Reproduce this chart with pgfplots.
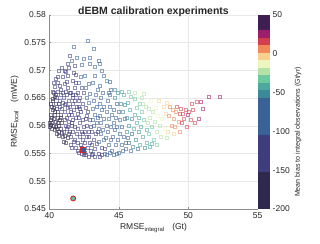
\documentclass[border=0pt]{standalone}
\usepackage{pgfplots}
\pgfplotsset{compat=1.18}
\usepackage{fontspec}
\setmainfont{Liberation Sans}
\definecolor{txt}{HTML}{262626}
\definecolor{axc}{HTML}{8C8C8C}
\definecolor{grd}{HTML}{E8E8E8}
\definecolor{hlsq}{RGB}{58,92,150}
\definecolor{hlci}{RGB}{95,192,160}
\definecolor{hlred}{RGB}{225,40,40}
\pgfplotsset{colormap={bias}{
rgb255=(47,42,77) rgb255=(47,42,77) rgb255=(47,42,77) rgb255=(47,42,77) rgb255=(47,42,77)
rgb255=(62,61,126) rgb255=(62,61,126) rgb255=(62,61,126) rgb255=(62,61,126) rgb255=(62,61,126)
rgb255=(58,98,150) rgb255=(58,98,150) rgb255=(58,98,150) rgb255=(58,98,150) rgb255=(58,98,150)
rgb255=(58,138,152) rgb255=(76,168,157) rgb255=(110,202,158) rgb255=(180,225,166) rgb255=(238,246,192)
rgb255=(248,208,144) rgb255=(240,138,90) rgb255=(212,63,80) rgb255=(156,31,108) rgb255=(63,31,82)
rgb255=(63,31,82)
}}
\begin{document}
\begin{tikzpicture}
\useasboundingbox (-49.3pt,-34pt) rectangle (270.7pt,209pt);
\begin{axis}[
  scale only axis, width=208.4pt, height=194.3pt,
  xmin=40, xmax=55, ymin=0.545, ymax=0.58,
  xtick={40,45,50,55}, ytick={0.545,0.55,0.555,0.56,0.565,0.57,0.575,0.58},
  scaled y ticks=false,
  yticklabel style={/pgf/number format/.cd, fixed, precision=3},
  /pgf/number format/assume math mode=true,
  axis lines*=left, axis line style={axc, line width=0.4pt},
  tick style={axc, line width=0.4pt}, tick align=inside, major tick length=2pt,
  grid=major, grid style={grd, line width=0.4pt},
  ticklabel style={font=\fontsize{8.5}{9}\selectfont, text=txt},
  label style={font=\fontsize{8.5}{10}\selectfont, text=txt},
  xlabel={RMSE\textsubscript{integral}\hspace{0.9em}(Gt)},
  ylabel={RMSE\textsubscript{local}\hspace{0.9em}(mWE)},
  xlabel style={yshift=2pt},
  ylabel style={yshift=-1pt},
  title={\textbf{dEBM calibration experiments}},
  title style={font=\fontsize{10.5}{12}\selectfont, text=txt, at={(0.5,1)}, anchor=base, yshift=-5.5pt},
  colormap name=bias, colormap access=piecewise constant,
  point meta min=-200, point meta max=50,
  colorbar right,
  colorbar style={scale only axis, width=12.5pt, at={(1,1)}, anchor=north west, xshift=12.3pt,
    ytick={-200,-150,-100,-50,0,50},
    /pgf/number format/assume math mode=true,
    yticklabel style={font=\fontsize{8.5}{9}\selectfont, text=txt, xshift=-1pt},
    axis line style={draw=none}, major tick length=0pt,
    ylabel={Mean bias to integral observations (Gt/yr)},
    ylabel style={font=\fontsize{7.1}{9}\selectfont, text=txt, xshift=-20pt, yshift=2pt}},
]
\addplot[scatter, only marks, mark=square, mark size=1.5pt, line width=0.4pt,
  scatter src=explicit, scatter/use mapped color={draw=mapped color, draw opacity=0.58}]
table[meta index=2] {
x y m
40.05 0.5598 -171
40.10 0.5602 -169
40.08 0.5610 -167
40.15 0.5595 -172
40.20 0.5605 -168
40.12 0.5620 -164
40.25 0.5628 -162
40.18 0.5635 -160
40.30 0.5600 -170
40.35 0.5612 -166
40.28 0.5645 -156
40.40 0.5592 -172
40.42 0.5625 -162
40.45 0.5640 -158
40.38 0.5652 -154
40.22 0.5648 -156
40.33 0.5660 -152
40.47 0.5608 -168
40.15 0.5615 -166
40.30 0.5632 -160
40.45 0.5685 -145
40.35 0.5678 -147
40.40 0.5670 -149
40.25 0.5662 -151
40.48 0.5655 -153
40.10 0.5640 -158
40.44 0.5598 -171
40.05 0.5606 -168
40.36 0.5619 -164
40.52 0.5585 -164
40.55 0.5595 -162
40.60 0.5605 -158
40.58 0.5615 -156
40.65 0.5590 -163
40.62 0.5625 -152
40.70 0.5582 -165
40.68 0.5600 -160
40.72 0.5635 -150
40.75 0.5610 -157
40.78 0.5645 -147
40.80 0.5595 -162
40.85 0.5620 -154
40.82 0.5655 -144
40.88 0.5588 -164
40.90 0.5630 -151
40.92 0.5605 -158
40.95 0.5642 -147
40.98 0.5580 -166
40.55 0.5650 -145
40.60 0.5662 -141
40.67 0.5640 -148
40.74 0.5672 -138
40.85 0.5665 -140
40.58 0.5678 -137
40.70 0.5700 -130
40.90 0.5705 -128
40.95 0.5688 -134
40.63 0.5688 -134
40.80 0.5615 -156
40.53 0.5630 -151
40.97 0.5660 -142
41.02 0.5572 -157
41.05 0.5590 -151
41.08 0.5610 -145
41.10 0.5582 -153
41.12 0.5625 -140
41.15 0.5600 -148
41.18 0.5640 -136
41.20 0.5570 -157
41.22 0.5615 -143
41.25 0.5655 -132
41.28 0.5595 -150
41.30 0.5632 -138
41.32 0.5668 -128
41.35 0.5578 -155
41.38 0.5608 -146
41.40 0.5645 -134
41.42 0.5620 -142
41.45 0.5590 -151
41.48 0.5660 -130
41.05 0.5650 -133
41.10 0.5675 -126
41.15 0.5662 -129
41.25 0.5680 -124
41.35 0.5690 -121
41.20 0.5698 -119
41.40 0.5705 -117
41.30 0.5712 -115
41.45 0.5727 -110
41.12 0.5700 -118
41.42 0.5585 -153
41.08 0.5638 -137
41.33 0.5598 -149
41.47 0.5635 -137
41.52 0.5565 -147
41.55 0.5580 -143
41.58 0.5600 -137
41.60 0.5620 -131
41.62 0.5560 -149
41.65 0.5640 -125
41.68 0.5590 -140
41.70 0.5610 -134
41.72 0.5655 -121
41.75 0.5572 -145
41.78 0.5628 -129
41.80 0.5668 -117
41.82 0.5598 -138
41.85 0.5645 -124
41.88 0.5560 -149
41.90 0.5615 -133
41.92 0.5678 -114
41.95 0.5585 -142
41.98 0.5635 -127
41.55 0.5660 -119
41.65 0.5682 -112
41.75 0.5695 -109
41.85 0.5708 -105
41.60 0.5718 -102
41.73 0.5743 -94
41.95 0.5722 -100
41.90 0.5692 -113
41.58 0.5605 -136
41.68 0.5650 -122
41.82 0.5575 -144
41.93 0.5655 -121
41.53 0.5625 -130
42.02 0.5555 -139
42.05 0.5570 -134
42.08 0.5595 -127
42.10 0.5615 -121
42.12 0.5635 -115
42.15 0.5552 -139
42.18 0.5580 -131
42.20 0.5650 -110
42.22 0.5605 -124
42.25 0.5565 -136
42.28 0.5625 -118
42.30 0.5668 -105
42.32 0.5590 -128
42.35 0.5550 -140
42.38 0.5640 -113
42.40 0.5610 -122
42.42 0.5575 -133
42.45 0.5660 -107
42.48 0.5598 -126
42.05 0.5660 -107
42.15 0.5678 -102
42.25 0.5688 -99
42.35 0.5710 -92
42.45 0.5720 -89
42.10 0.5645 -112
42.30 0.5560 -137
42.40 0.5585 -130
42.20 0.5630 -116
42.48 0.5548 -141
42.04 0.5622 -118
42.52 0.5552 -128
42.55 0.5570 -123
42.58 0.5590 -117
42.60 0.5612 -110
42.62 0.5632 -104
42.65 0.5548 -130
42.68 0.5580 -120
42.70 0.5650 -99
42.72 0.5600 -114
42.75 0.5560 -126
42.78 0.5625 -107
42.80 0.5545 -131
42.82 0.5590 -117
42.85 0.5642 -101
42.88 0.5570 -123
42.90 0.5610 -111
42.92 0.5658 -97
42.95 0.5555 -128
42.98 0.5598 -115
42.74 0.5753 -68
42.90 0.5723 -77
42.92 0.5712 -80
42.60 0.5668 -94
42.80 0.5675 -92
42.55 0.5690 -87
42.70 0.5618 -109
42.85 0.5580 -120
43.02 0.5548 -119
43.05 0.5565 -114
43.08 0.5590 -106
43.10 0.5610 -100
43.12 0.5630 -94
43.15 0.5550 -118
43.18 0.5575 -111
43.20 0.5645 -90
43.22 0.5600 -103
43.25 0.5558 -116
43.28 0.5620 -97
43.30 0.5545 -119
43.32 0.5585 -108
43.35 0.5655 -87
43.38 0.5605 -101
43.40 0.5568 -113
43.42 0.5635 -93
43.45 0.5590 -106
43.48 0.5615 -99
43.17 0.5738 -62
43.10 0.5678 -80
43.30 0.5706 -71
43.45 0.5665 -83
43.25 0.5690 -76
43.52 0.5550 -107
43.55 0.5572 -100
43.58 0.5595 -94
43.60 0.5618 -87
43.62 0.5640 -80
43.65 0.5545 -108
43.68 0.5585 -97
43.70 0.5650 -77
43.72 0.5605 -91
43.75 0.5560 -104
43.78 0.5628 -84
43.80 0.5548 -108
43.82 0.5592 -94
43.85 0.5660 -74
43.88 0.5575 -99
43.90 0.5612 -88
43.95 0.5635 -82
43.98 0.5558 -105
43.55 0.5718 -57
43.60 0.5712 -58
43.75 0.5700 -62
43.92 0.5690 -65
43.65 0.5672 -70
44.02 0.5550 -95
44.05 0.5578 -87
44.10 0.5600 -80
44.12 0.5625 -73
44.15 0.5548 -96
44.18 0.5645 -67
44.22 0.5590 -83
44.25 0.5565 -91
44.28 0.5612 -76
44.32 0.5655 -64
44.35 0.5552 -94
44.38 0.5635 -70
44.40 0.5598 -81
44.42 0.5575 -88
44.45 0.5665 -61
44.48 0.5620 -74
44.10 0.5682 -55
44.35 0.5680 -56
44.25 0.5660 -62
44.52 0.5555 -83
44.55 0.5580 -75
44.60 0.5605 -68
44.62 0.5628 -61
44.65 0.5548 -85
44.70 0.5650 -54
44.72 0.5592 -71
44.75 0.5565 -79
44.80 0.5615 -64
44.82 0.5640 -57
44.85 0.5550 -84
44.88 0.5598 -70
44.90 0.5660 -51
44.95 0.5575 -76
44.98 0.5625 -62
44.70 0.5665 -50
45.02 0.5552 -74
45.05 0.5585 -64
45.10 0.5610 -57
45.15 0.5640 -48
45.18 0.5565 -70
45.22 0.5598 -61
45.25 0.5625 -52
45.30 0.5555 -73
45.32 0.5655 -44
45.35 0.5580 -66
45.40 0.5612 -56
45.45 0.5638 -49
45.48 0.5570 -69
45.20 0.5662 -41
45.52 0.5558 -65
45.55 0.5590 -55
45.60 0.5615 -48
45.65 0.5642 -39
45.70 0.5570 -61
45.75 0.5600 -52
45.80 0.5628 -44
45.85 0.5555 -66
45.88 0.5652 -36
45.90 0.5585 -57
45.95 0.5612 -48
45.75 0.5662 -33
45.62 0.5578 -59
46.02 0.5562 -55
46.08 0.5595 -46
46.12 0.5620 -38
46.18 0.5648 -30
46.22 0.5575 -52
46.28 0.5605 -43
46.32 0.5632 -34
46.38 0.5558 -57
46.42 0.5590 -47
46.45 0.5615 -40
46.15 0.5660 -26
46.48 0.5640 -32
46.52 0.5565 -46
46.58 0.5598 -37
46.62 0.5625 -28
46.68 0.5650 -21
46.72 0.5580 -42
46.78 0.5610 -33
46.82 0.5658 -19
46.88 0.5560 -48
46.92 0.5635 -26
46.98 0.5592 -38
46.75 0.5640 -24
47.02 0.5570 -37
47.08 0.5605 -26
47.12 0.5630 -19
47.18 0.5585 -32
47.25 0.5615 -23
47.30 0.5645 -15
47.35 0.5568 -38
47.40 0.5598 -29
47.45 0.5625 -20
47.22 0.5562 -39
47.55 0.5575 -27
47.62 0.5608 -18
47.68 0.5632 -10
47.75 0.5590 -23
47.82 0.5618 -15
47.88 0.5645 -6
47.95 0.5600 -20
47.70 0.5565 -30
48.05 0.5580 -18
48.12 0.5612 -8
48.20 0.5635 -2
48.28 0.5595 -14
48.35 0.5622 -5
48.42 0.5642 1
48.45 0.5578 -19
48.55 0.5590 -2
48.62 0.5618 3
48.70 0.5635 5
48.78 0.5600 2
48.85 0.5628 6
48.92 0.5585 1
48.98 0.5612 5
49.05 0.5598 6
49.12 0.5625 8
49.20 0.5635 12
49.28 0.5608 9
49.35 0.5622 13
49.42 0.5590 8
49.48 0.5630 14
49.55 0.5605 12
49.62 0.5622 15
49.70 0.5612 14
49.80 0.5628 18
49.88 0.5598 12
49.95 0.5620 22
50.05 0.5625 16
50.15 0.5610 18
50.25 0.5640 19
50.35 0.5628 21
50.45 0.5605 15
50.60 0.5643 18
50.72 0.5613 24
50.92 0.5643 22
51.02 0.5631 26
51.45 0.5652 27
52.25 0.5652 28
};
\addplot[only marks, mark=square*, mark size=2.5pt,
  mark options={draw=hlred, fill=hlsq, line width=0.9pt}]
coordinates {(42.42,0.5556)};
\addplot[only marks, mark=*, mark size=2.5pt,
  mark options={draw=hlred, fill=hlci, line width=0.9pt}]
coordinates {(41.72,0.5469)};
\end{axis}
\end{tikzpicture}
\end{document}
